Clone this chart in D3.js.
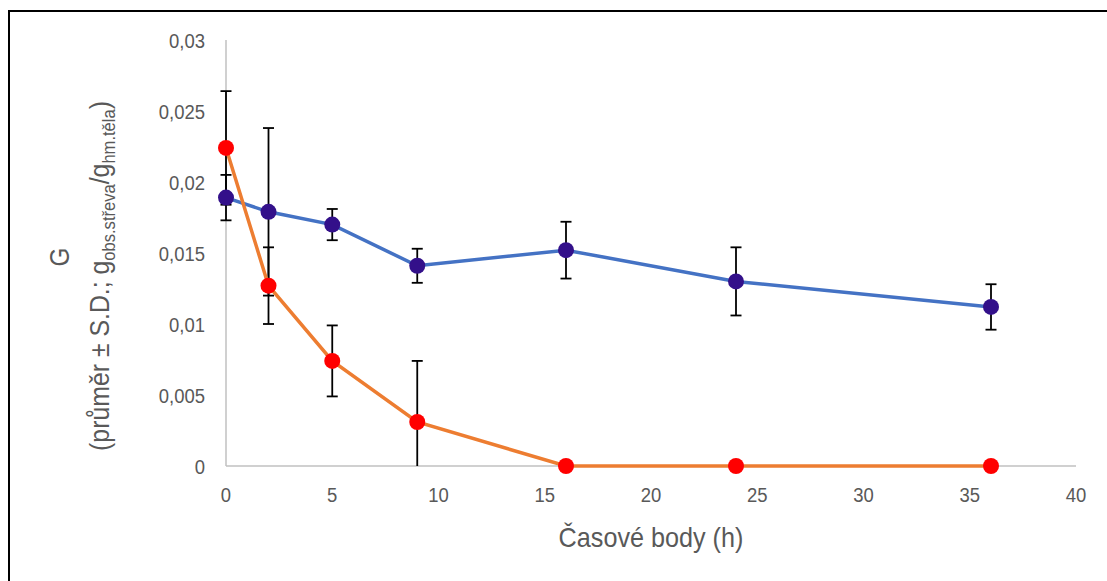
<!DOCTYPE html>
<html><head><meta charset="utf-8">
<script src="https://cdn.jsdelivr.net/npm/d3@7"></script>
<style>
html,body{margin:0;padding:0;background:#fff;}
text{font-family:"Liberation Sans Narrow","Arial Narrow","Liberation Sans",Arial,sans-serif;}
</style></head>
<body><svg id="c" width="1107" height="581"></svg>
<script>
// Data
const times = [0, 2, 5, 9, 16, 24, 36];
const seriesA = [0.0189, 0.0179, 0.0170, 0.0141, 0.0152, 0.0130, 0.0112];
const seriesA_sd = [0.0016, 0.0059, 0.0011, 0.0012, 0.0020, 0.0024, 0.0016];
const seriesB = [0.0224, 0.0127, 0.0074, 0.0031, 0, 0, 0];
const seriesB_sd = [0.0040, 0.0027, 0.0025, 0.0043, 0, 0, 0];
const xTicks = [0, 5, 10, 15, 20, 25, 30, 35, 40];
const yTicks = [0, 0.005, 0.01, 0.015, 0.02, 0.025, 0.03];
const yTickLabels = ["0", "0,005", "0,01", "0,015", "0,02", "0,025", "0,03"];

const svg = d3.select("#c");
// outer frame (partially visible)
svg.append("rect").attr("x", 9).attr("y", 11).attr("width", 1120).attr("height", 600)
  .attr("fill", "none").attr("stroke", "#000").attr("stroke-width", 2);

const x = d3.scaleLinear().domain([0, 40]).range([226, 1076]);
const y = d3.scaleLinear().domain([0, 0.03]).range([466, 40]);

// axes lines
svg.append("line").attr("x1", x(0)).attr("x2", x(0)).attr("y1", y(0.03)).attr("y2", y(0))
  .attr("stroke", "#c0c0c0").attr("stroke-width", 1.5);
svg.append("line").attr("x1", x(0)).attr("x2", x(40)).attr("y1", y(0)).attr("y2", y(0))
  .attr("stroke", "#c0c0c0").attr("stroke-width", 1.5);

const sx = 0.88;
const tickFont = 21;
svg.append("g").selectAll("text").data(yTicks).join("text")
  .attr("transform", d => `translate(205,${y(d)}) scale(${sx},1)`).attr("dy", "0.36em")
  .attr("text-anchor", "end").attr("font-size", tickFont).attr("fill", "#595959")
  .text((d, i) => yTickLabels[i]);
svg.append("g").selectAll("text").data(xTicks).join("text")
  .attr("transform", d => `translate(${x(d)},494) scale(${sx},1)`).attr("dy", "0.36em")
  .attr("text-anchor", "middle").attr("font-size", tickFont).attr("fill", "#595959")
  .text(d => d);

// axis titles
svg.append("text").attr("transform", `translate(${x(20)},537) scale(0.9,1)`).attr("dy", "0.36em")
  .attr("text-anchor", "middle").attr("font-size", 28).attr("fill", "#595959")
  .text("Časové body (h)");

const yt1 = svg.append("g").attr("transform", "translate(0,257) rotate(-90) scale(0.9,1)");
yt1.append("text").attr("x", 0).attr("y", 69).attr("text-anchor", "middle")
  .attr("font-size", 27).attr("fill", "#595959").text("G");
const yt2 = svg.append("g").attr("transform", "translate(0,276) rotate(-90) scale(0.92,1)");
const t2 = yt2.append("text").attr("x", 0).attr("y", 109).attr("text-anchor", "middle")
  .attr("font-size", 27).attr("fill", "#595959");
t2.append("tspan").text("(průměr ± S.D.; g");
t2.append("tspan").attr("font-size", 18).attr("dy", 6).text("obs.střeva");
t2.append("tspan").attr("dy", -6).text("/g");
t2.append("tspan").attr("font-size", 18).attr("dy", 6).text("hm.těla");
t2.append("tspan").attr("dy", -6).text(")");

// clip for plot area
svg.append("clipPath").attr("id", "pc").append("rect")
  .attr("x", 0).attr("y", y(0.03)).attr("width", 1107).attr("height", y(0) - y(0.03));

const plot = svg.append("g").attr("clip-path", "url(#pc)");
const line = d3.line().x((d, i) => x(times[i])).y(d => y(d));

function errorBars(vals, sds) {
  const g = plot.append("g").attr("stroke", "#000").attr("stroke-width", 1.8);
  vals.forEach((v, i) => {
    if (!sds[i]) return;
    const cx = x(times[i]);
    g.append("line").attr("x1", cx).attr("x2", cx).attr("y1", y(v + sds[i])).attr("y2", y(v - sds[i]));
    [v + sds[i], v - sds[i]].forEach(e => {
      g.append("line").attr("x1", cx - 5.5).attr("x2", cx + 5.5).attr("y1", y(e)).attr("y2", y(e));
    });
  });
}
errorBars(seriesA, seriesA_sd);
errorBars(seriesB, seriesB_sd);

svg.append("path").datum(seriesA).attr("d", line).attr("fill", "none")
  .attr("stroke", "#4472c4").attr("stroke-width", 3.5);
svg.append("g").selectAll("circle").data(seriesA).join("circle")
  .attr("cx", (d, i) => x(times[i])).attr("cy", d => y(d)).attr("r", 8).attr("fill", "#33108a");

svg.append("path").datum(seriesB).attr("d", line).attr("fill", "none")
  .attr("stroke", "#ed7d31").attr("stroke-width", 3.5);
svg.append("g").selectAll("circle").data(seriesB).join("circle")
  .attr("cx", (d, i) => x(times[i])).attr("cy", d => y(d)).attr("r", 8).attr("fill", "#ff0000");
</script></body></html>
